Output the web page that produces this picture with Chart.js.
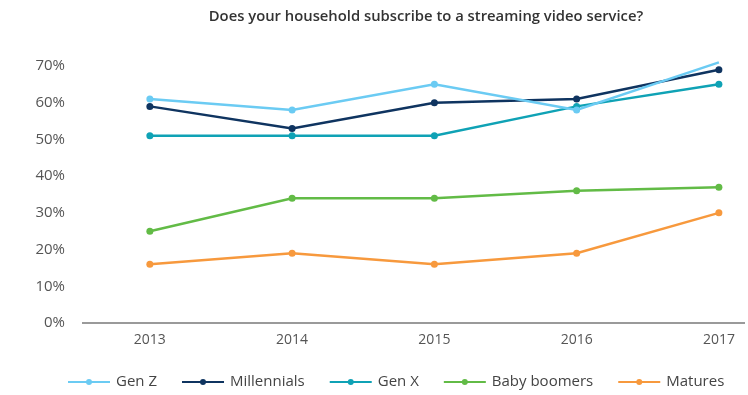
<!DOCTYPE html>
<html>
<head>
<meta charset="utf-8">
<script src="https://cdn.jsdelivr.net/npm/chart.js@4/dist/chart.umd.min.js"></script>
<style>
  html, body { margin: 0; padding: 0; background: #fff; }
  #wrap { width: 748px; height: 395px; position: relative; }
</style>
</head>
<body>
<div id="wrap"><canvas id="c" width="748" height="395"></canvas></div>
<script>
const title = "Does your household subscribe to a streaming video service?";
const years = [2013, 2014, 2015, 2016, 2017];
const yTicks = [0, 10, 20, 30, 40, 50, 60, 70];
const seriesNames = ["Gen Z", "Millennials", "Gen X", "Baby boomers", "Matures"];
const genZ = [61, 58, 65, 58, 71];
const millennials = [59, 53, 60, 61, 69];
const genX = [51, 51, 51, 59, 65];
const babyBoomers = [25, 34, 34, 36, 37];
const matures = [16, 19, 16, 19, 30];

const seriesValues = [genZ, millennials, genX, babyBoomers, matures];
const colors = ["#6BCBF3", "#0F3460", "#0FA2B5", "#62BB46", "#F7993D"];
const FONT = "'Open Sans', 'Noto Sans', sans-serif";

const datasets = seriesNames.map((name, i) => ({
  label: name,
  data: years.map((yr, j) => ({ x: yr, y: seriesValues[i][j] })),
  borderColor: colors[i],
  backgroundColor: colors[i],
  borderWidth: 2.5,
  pointRadius: 3.5,
  pointHoverRadius: 3.5,
  pointBorderWidth: 0,
  tension: 0,
  clip: false
}));

const decor = {
  id: 'decor',
  afterDraw(chart) {
    const ctx = chart.ctx;
    ctx.save();
    // title
    ctx.fillStyle = '#333';
    ctx.font = "600 14.8px " + FONT;
    ctx.textAlign = 'center';
    ctx.textBaseline = 'middle';
    ctx.fillText(title, 426, 17);
    // legend
    ctx.font = "15px " + FONT;
    ctx.textAlign = 'left';
    let x = 68;
    const y = 382;
    chart.data.datasets.forEach(ds => {
      ctx.strokeStyle = ds.borderColor;
      ctx.lineWidth = 2;
      ctx.beginPath();
      ctx.moveTo(x, y);
      ctx.lineTo(x + 42, y);
      ctx.stroke();
      ctx.fillStyle = ds.borderColor;
      ctx.beginPath();
      ctx.arc(x + 21, y, 3, 0, Math.PI * 2);
      ctx.fill();
      ctx.fillStyle = '#444';
      ctx.fillText(ds.label, x + 48, y);
      x += 48 + ctx.measureText(ds.label).width + 25;
    });
    ctx.restore();
  }
};

new Chart(document.getElementById('c'), {
  type: 'line',
  data: { datasets },
  options: {
    responsive: false,
    animation: false,
    layout: { padding: { top: 66, right: 0, bottom: 50, left: 0 } },
    plugins: { legend: { display: false }, title: { display: false }, tooltip: { enabled: false } },
    scales: {
      x: {
        type: 'linear',
        min: 2012.53,
        max: 2017.18,
        afterFit(s) { s.height = 22; },
        afterBuildTicks(s) { s.ticks = years.map(v => ({ value: v })); },
        grid: { display: false, drawTicks: false },
        border: { display: true, color: '#9a9a9a', width: 2 },
        ticks: {
          padding: 9,
          color: '#555',
          font: { family: FONT, size: 14 },
          callback: v => String(v)
        }
      },
      y: {
        min: 0,
        max: 70,
        afterFit(s) { s.width = 83; },
        afterBuildTicks(s) { s.ticks = yTicks.map(v => ({ value: v })); },
        grid: { display: false, drawTicks: false },
        border: { display: false },
        ticks: {
          padding: 18,
          color: '#555',
          font: { family: FONT, size: 15 },
          callback: v => v + '%'
        }
      }
    }
  },
  plugins: [decor]
});
</script>
</body>
</html>
